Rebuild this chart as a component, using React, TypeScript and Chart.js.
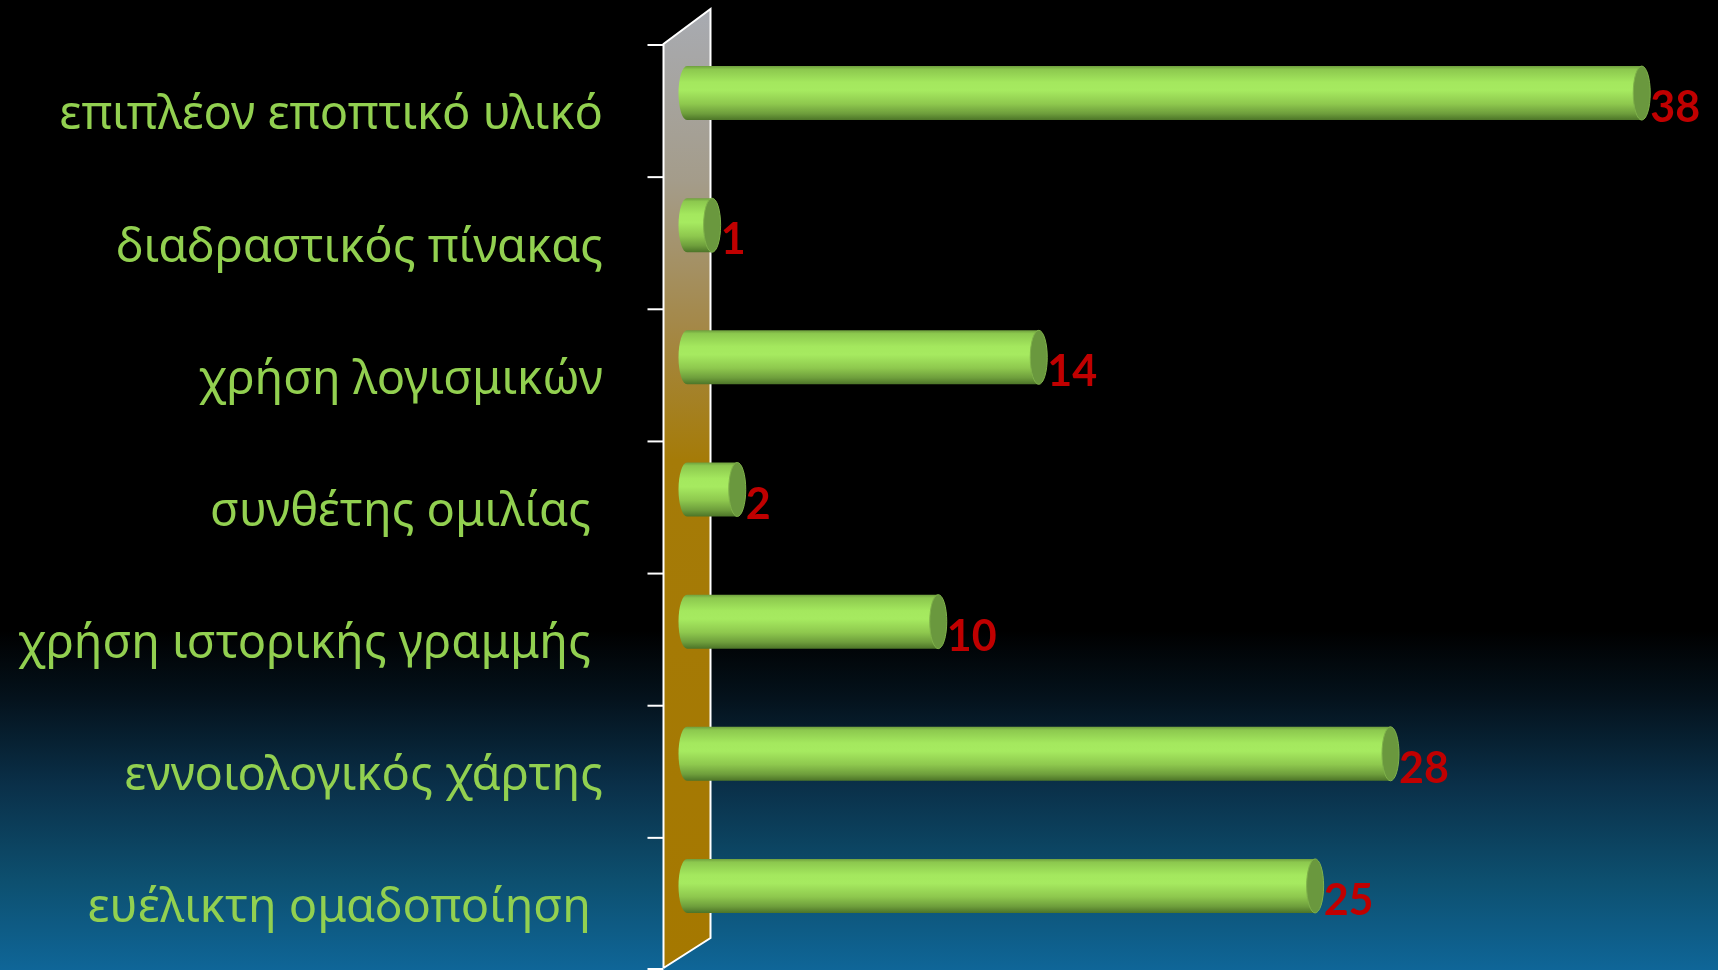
import React, { useEffect, useRef } from "react";
import { Chart, registerables } from "chart.js";

Chart.register(...registerables);

const categories = [
  "επιπλέον εποπτικό υλικό",
  "διαδραστικός πίνακας",
  "χρήση λογισμικών",
  "συνθέτης ομιλίας ",
  "χρήση ιστορικής γραμμής ",
  "εννοιολογικός χάρτης",
  "ευέλικτη ομαδοποίηση ",
];
const values = [38, 1, 14, 2, 10, 28, 25];

const W = 1718;
const H = 970;
const DEPTH_X = 47;
const BAR_SHIFT_Y = -18;

const bgPlugin = {
  id: "bg",
  beforeDraw(chart: any) {
    const ctx = chart.ctx;
    const g = ctx.createLinearGradient(0, 0, 0, chart.height);
    g.addColorStop(0, "#000000");
    g.addColorStop(0.65, "#000000");
    g.addColorStop(0.72, "#04121c");
    g.addColorStop(0.81, "#0a3049");
    g.addColorStop(0.91, "#0d5070");
    g.addColorStop(1, "#0f6698");
    ctx.save();
    ctx.fillStyle = g;
    ctx.fillRect(0, 0, chart.width, chart.height);
    ctx.restore();
  },
};

const wallPlugin = {
  id: "wall",
  beforeDatasetsDraw(chart: any) {
    const ctx = chart.ctx;
    const area = chart.chartArea;
    const yScale = chart.scales.y;
    const fx = area.left - DEPTH_X / 2;
    const bx = fx + DEPTH_X;
    const ft = area.top - 1;
    const bt = ft - 35;
    const fb = area.bottom - 2;
    const bb = fb - 30;
    ctx.save();
    const g = ctx.createLinearGradient(0, bt, 0, fb);
    g.addColorStop(0, "#a8abb2");
    g.addColorStop(0.18, "#a49c8a");
    g.addColorStop(0.33, "#a48848");
    g.addColorStop(0.47, "#a57b08");
    g.addColorStop(1, "#a57800");
    ctx.beginPath();
    ctx.moveTo(fx, ft);
    ctx.lineTo(bx, bt);
    ctx.lineTo(bx, bb);
    ctx.lineTo(fx, fb);
    ctx.closePath();
    ctx.fillStyle = g;
    ctx.fill();
    ctx.strokeStyle = "#ffffff";
    ctx.lineWidth = 2;
    ctx.beginPath();
    ctx.moveTo(fx, fb);
    ctx.lineTo(fx, ft);
    ctx.lineTo(bx, bt);
    ctx.lineTo(bx, bb);
    ctx.lineTo(fx, fb);
    ctx.stroke();
    // tick marks at category band edges
    const n = categories.length;
    const band = (yScale.bottom - yScale.top) / n;
    for (let i = 0; i <= n; i++) {
      const yy = Math.min(yScale.top + i * band, chart.height - 1);
      ctx.beginPath();
      ctx.moveTo(fx - 16, yy);
      ctx.lineTo(fx, yy);
      ctx.stroke();
    }
    ctx.restore();
  },
};

const cylinderPlugin = {
  id: "cylinders",
  afterDatasetsDraw(chart: any) {
    const ctx = chart.ctx;
    const meta = chart.getDatasetMeta(0);
    ctx.save();
    meta.data.forEach((el: any, i: number) => {
      const p = el.getProps(["x", "y", "base", "height"], true);
      const y = p.y + BAR_SHIFT_Y;
      const h = p.height;
      const ry = h / 2;
      const x0 = p.base;
      const x1 = p.x;
      const rx = 8.5;
      const g = ctx.createLinearGradient(0, y - ry, 0, y + ry);
      g.addColorStop(0, "#6f9f3e");
      g.addColorStop(0.06, "#8cc84e");
      g.addColorStop(0.3, "#a4e85e");
      g.addColorStop(0.45, "#a6ea60");
      g.addColorStop(0.7, "#8ec84e");
      g.addColorStop(0.88, "#6e9e3c");
      g.addColorStop(1, "#4c7428");
      ctx.beginPath();
      ctx.moveTo(x1, y - ry);
      ctx.lineTo(x0, y - ry);
      ctx.ellipse(x0, y, rx, ry, 0, -Math.PI / 2, Math.PI / 2, true);
      ctx.lineTo(x1, y + ry);
      ctx.closePath();
      ctx.fillStyle = g;
      ctx.fill();
      // end cap
      ctx.beginPath();
      ctx.ellipse(x1, y, rx, ry, 0, 0, Math.PI * 2);
      ctx.fillStyle = "#6a983e";
      ctx.fill();
      ctx.strokeStyle = "#7fb24a";
      ctx.lineWidth = 1;
      ctx.stroke();
      // value label
      ctx.fillStyle = "#c00000";
      ctx.font = "bold 43px Lato, 'Open Sans', sans-serif";
      ctx.textAlign = "left";
      ctx.textBaseline = "alphabetic";
      ctx.fillText(String(values[i]), x1 + rx, p.y + 11);
    });
    ctx.restore();
  },
};

export default function App() {
  const ref = useRef<HTMLCanvasElement | null>(null);
  useEffect(() => {
    if (!ref.current) return;
    const chart = new Chart(ref.current, {
      type: "bar",
      data: {
        labels: categories,
        datasets: [
          {
            data: values,
            backgroundColor: "rgba(0,0,0,0)",
            borderWidth: 0,
            barThickness: 54,
          },
        ],
      },
      options: {
        indexAxis: "y",
        animation: false,
        responsive: false,
        events: [],
        layout: { padding: { top: 45, bottom: 0, left: 0, right: 26 } },
        plugins: {
          legend: { display: false },
          tooltip: { enabled: false },
        },
        scales: {
          x: { display: false, min: 0, max: 40 },
          y: {
            grid: { display: false },
            border: { display: false },
            afterFit: (scale: any) => {
              scale.width = 687;
              scale.paddingTop = 0;
              scale.paddingBottom = 0;
            },
            ticks: {
              padding: 76,
              labelOffset: 5,
              color: "#92d050",
              font: { family: "'Noto Sans', 'Open Sans', sans-serif", size: 47 },
            },
          },
        },
      },
      plugins: [bgPlugin, wallPlugin, cylinderPlugin],
    });
    return () => chart.destroy();
  }, []);
  return (
    <div style={{ position: "fixed", left: 0, top: 0, width: W, height: H, background: "#000" }}>
      <canvas ref={ref} width={W} height={H} style={{ display: "block" }} />
    </div>
  );
}
